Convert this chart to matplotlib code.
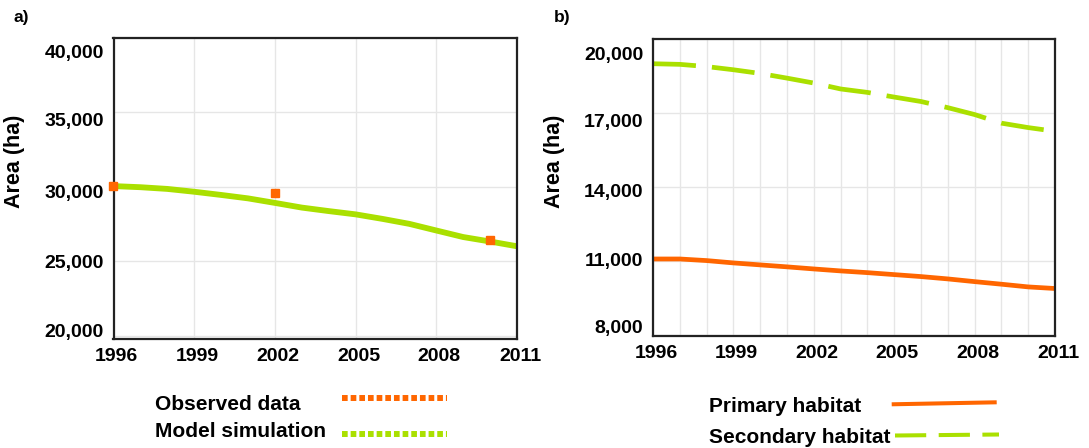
import numpy as np
import matplotlib
matplotlib.use("Agg")
import matplotlib.pyplot as plt
from matplotlib.lines import Line2D
from matplotlib.transforms import ScaledTranslation

plt.rcParams['font.family'] = ['Liberation Sans', 'DejaVu Sans']
plt.rcParams['font.weight'] = 'bold'

years = list(range(1996, 2012))

# a) total area, model vs observed
model_sim = [30045, 29970, 29855, 29665, 29450, 29220, 28915, 28600,
             28365, 28145, 27840, 27505, 27060, 26620, 26320, 26000]
obs_years = [1996, 2002, 2010]
obs_data = [30045, 29575, 26390]

# b) habitat area
primary = [11080, 11080, 11015, 10920, 10840, 10760, 10675, 10595,
           10525, 10445, 10365, 10270, 10160, 10055, 9945, 9880]
secondary = [19015, 18990, 18900, 18770, 18620, 18430, 18230, 17990,
             17850, 17660, 17480, 17230, 16950, 16600, 16420, 16270]

xticks = [1996, 1999, 2002, 2005, 2008, 2011]
a_yticks = [20000, 25000, 30000, 35000, 40000]
b_yticks = [8000, 11000, 14000, 17000, 20000]

ORANGE = '#FF6600'
GREEN = '#AAE000'

W, H = 1089, 448
fig = plt.figure(figsize=(W / 100, H / 100), dpi=100)
ax1 = fig.add_axes([113.5 / W, (H - 338.5) / H, 403.5 / W, 300.5 / H])
ax2 = fig.add_axes([653 / W, (H - 336) / H, 402 / W, 296.5 / H])


def style(ax, yticks, ylim):
    ax.set_xlim(1996, 2011)
    ax.set_ylim(*ylim)
    ax.set_xticks(xticks)
    ax.set_yticks(yticks)
    ax.set_yticklabels(['{:,}'.format(v) for v in yticks])
    ax.tick_params(axis='y', length=0, labelsize=14, pad=7)
    ax.tick_params(axis='x', length=0, labelsize=14, pad=6.5)
    ax.tick_params(which='minor', length=0)
    ax.grid(True, which='major', color='#e6e6e6', lw=1)
    ax.set_axisbelow(True)
    for s in ax.spines.values():
        s.set_linewidth(1.6)
        s.set_color('#222222')
    ax.set_ylabel('Area (ha)', fontsize=15.5, fontweight='bold')
    ax.yaxis.set_label_coords(-0.219, 0.588)


style(ax1, a_yticks, (19800, 40000))
ax1.plot(years, model_sim, color=GREEN, lw=4.2, solid_capstyle='butt', zorder=2)
ax1.plot(obs_years, obs_data, ls='none', marker='s', ms=6.2, color=ORANGE,
         mec=ORANGE, zorder=3, clip_on=False)

style(ax2, b_yticks, (7950, 20000))
ax2.set_xticks(years, minor=True)
ax2.grid(True, which='minor', axis='x', color='#e6e6e6', lw=1)
ax2.plot(years, primary, color=ORANGE, lw=3.4, solid_capstyle='butt')
ax2.plot(years, secondary, color=GREEN, lw=3.4, dashes=(9.1, 3.4))

fig.text(13 / W, 1 - 17.5 / H, 'a)', fontsize=12.5, va='center')
fig.text(554 / W, 1 - 17.5 / H, 'b)', fontsize=12.5, va='center')


# legend rows: label on the left, line sample on the right
def key(x0, x1, y0, y1, **kw):
    fig.add_artist(Line2D([x0 / W, x1 / W], [1 - y0 / H, 1 - y1 / H],
                          transform=fig.transFigure, solid_capstyle='butt', **kw))


def label(x, y, s):
    fig.text(x / W, 1 - y / H, s, fontsize=15, va='baseline', ha='left')


label(155, 410, 'Observed data')
label(155, 437.3, 'Model simulation')
key(341.7, 446.7, 398.3, 398.3, color=ORANGE, lw=4.3, dashes=(0.95, 0.5))
key(341.7, 446.7, 433.7, 433.7, color=GREEN, lw=4.3, dashes=(0.95, 0.5))

label(709, 411.7, 'Primary habitat')
label(709, 443.3, 'Secondary habitat')
key(891.7, 996.7, 404.3, 402.3, color=ORANGE, lw=2.9)
key(895, 999, 435.5, 434.5, color=GREEN, lw=2.9, dashes=(7.75, 3.1))

# tick labels in the original sit in a slightly compressed band
fig.canvas.draw()
label_dy = {ax1: [-5, 0, 5, 7, 13.5], ax2: [-8, -1, 3, 7, 14]}
for ax, dys in label_dy.items():
    for lab, dy in zip(ax.get_yticklabels(), dys):
        lab.set_transform(lab.get_transform() +
                          ScaledTranslation(0, -dy / 100, fig.dpi_scale_trans))
    for lab in ax.get_xticklabels():
        lab.set_transform(lab.get_transform() +
                          ScaledTranslation(3 / 100, 0, fig.dpi_scale_trans))

fig.savefig('out.png', dpi=100)
